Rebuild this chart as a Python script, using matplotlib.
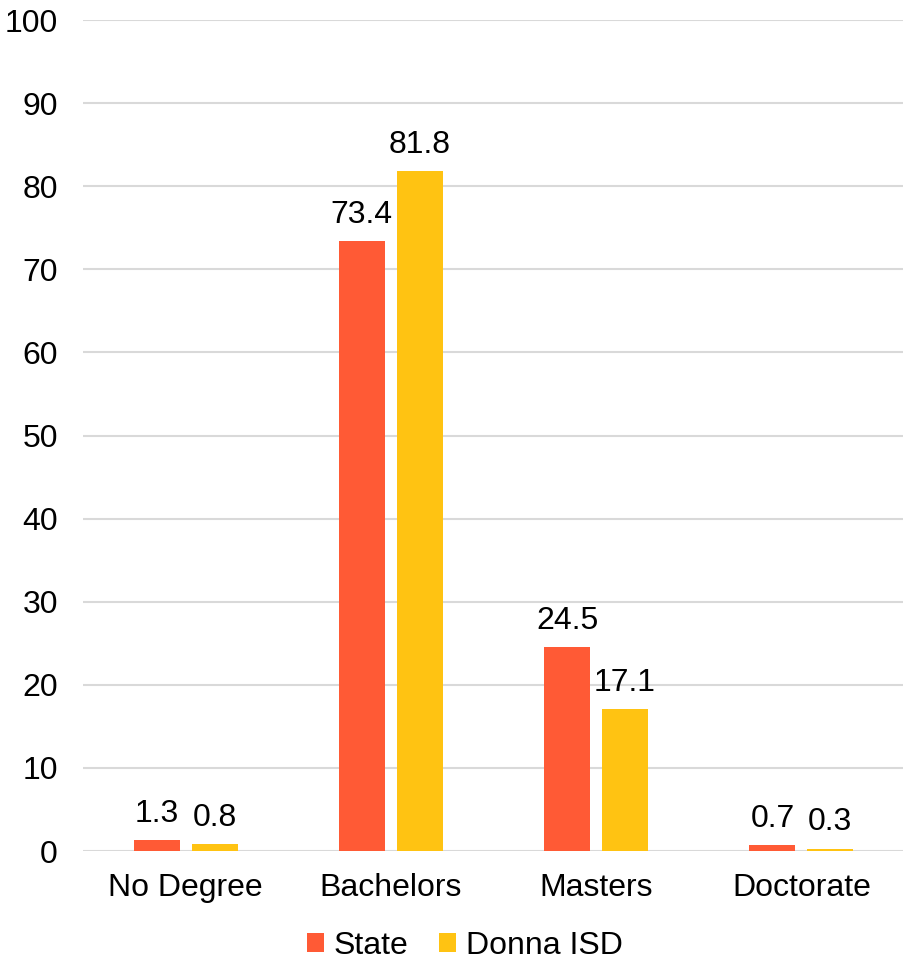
import matplotlib.pyplot as plt
import numpy as np

categories = ['No Degree', 'Bachelors', 'Masters', 'Doctorate']
state = [1.3, 73.4, 24.5, 0.7]
donna = [0.8, 81.8, 17.1, 0.3]
series_names = ['State', 'Donna ISD']
colors = ['#FF5A35', '#FFC312']

plt.rcParams['font.family'] = ['Liberation Sans', 'DejaVu Sans']

fig = plt.figure(figsize=(9.04, 9.63), dpi=100)
ax = fig.add_axes([0.0918, 0.1163, 0.9082, 0.8629])

x = np.arange(len(categories))
w = 0.224
off = 0.141
b1 = ax.bar(x - off, state, w, color=colors[0], label=series_names[0], zorder=3)
b2 = ax.bar(x + off, donna, w, color=colors[1], label=series_names[1], zorder=3)

for bars, vals in ((b1, state), (b2, donna)):
    for r, v in zip(bars, vals):
        ax.annotate(f'{v:.1f}', (r.get_x() + r.get_width() / 2, v),
                    xytext=(0, 8), textcoords='offset points',
                    ha='center', va='bottom', fontsize=23)

ax.set_xlim(-0.5, 3.5)
ax.set_ylim(0, 100)
ax.set_yticks(range(0, 101, 10))
ax.set_xticks(x)
ax.set_xticklabels(categories)
ax.tick_params(axis='both', length=0, labelsize=23)
ax.tick_params(axis='y', pad=18)
ax.tick_params(axis='x', pad=16)
ax.grid(axis='y', color='#D9D9D9', linewidth=1.5, zorder=0)
for s in ax.spines.values():
    s.set_visible(False)

leg = fig.legend(loc='center', bbox_to_anchor=(0.514, 0.018), ncol=2, frameon=False,
                 fontsize=23, handlelength=0.55, handleheight=0.55,
                 handletextpad=0.3, columnspacing=0.95)

fig.savefig('out.png', dpi=100)
